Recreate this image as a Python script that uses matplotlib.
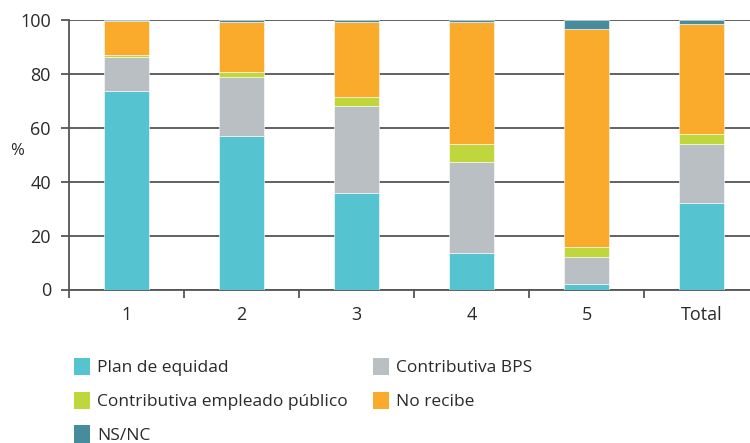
import numpy as np
import matplotlib
matplotlib.use("Agg")
import matplotlib.pyplot as plt
from matplotlib.patches import Patch

plt.rcParams["font.family"] = ["Open Sans", "DejaVu Sans"]

categories = ["1", "2", "3", "4", "5", "Total"]
series_names = ["Plan de equidad", "Contributiva BPS", "Contributiva empleado público", "No recibe", "NS/NC"]
plan_equidad = [73.7, 57.0, 35.9, 13.6, 2.0, 32.2]
contrib_bps = [12.4, 21.7, 32.3, 33.6, 9.9, 21.8]
contrib_publico = [0.9, 2.0, 3.1, 6.8, 3.7, 3.7]
no_recibe = [12.7, 18.4, 27.8, 45.1, 81.1, 40.8]
ns_nc = [0.3, 0.9, 0.9, 0.9, 3.3, 1.5]
colors = ["#56C3D1", "#BABFC3", "#BFD73C", "#FAAB2B", "#478C9C"]

fig = plt.figure(figsize=(7.5, 4.43), dpi=100)
ax = fig.add_axes([69/750, 1 - 289.5/443, 690/750, 269.5/443])

x = np.arange(len(categories))
bottom = np.zeros(len(categories))
series = [plan_equidad, contrib_bps, contrib_publico, no_recibe, ns_nc]
for vals, name, c in zip(series, series_names, colors):
    ax.bar(x, vals, width=0.39, bottom=bottom, color=c, label=name,
           edgecolor="white", linewidth=0.4, zorder=3)
    bottom += np.array(vals)

ax.set_xlim(-0.5, len(categories) - 0.5)
ax.set_ylim(0, 100)
ax.set_yticks(range(0, 101, 20))
ax.yaxis.grid(True, color="#555555", linewidth=1.3, zorder=0)
ax.set_axisbelow(True)

ax.set_xticks(x)
ax.set_xticklabels(categories)
ax.set_xticks(np.arange(-0.5, len(categories) + 0.5), minor=True)
ax.tick_params(axis="x", which="major", length=0, pad=12, labelsize=13, colors="#2a2a2a")
ax.tick_params(axis="x", which="minor", length=6, width=1.3, color="#555555")
ax.tick_params(axis="y", length=6, width=1.3, color="#555555", pad=7, labelsize=13, labelcolor="#2a2a2a")

for s in ["top", "right"]:
    ax.spines[s].set_visible(False)
for s in ["left", "bottom"]:
    ax.spines[s].set_color("#555555")
    ax.spines[s].set_linewidth(1.3)

fig.text(17/750, 1 - 151/443, "%", fontsize=12, color="#2a2a2a", ha="center", va="center")

order = [0, 2, 4, 1, 3]
handles = [Patch(facecolor=colors[i], edgecolor="none") for i in order]
labels = [series_names[i] for i in order]
fig.legend(handles, labels, ncol=2, loc="upper left", bbox_to_anchor=(67/750, 1 - 351/443),
           frameon=False, fontsize=12.5, handlelength=0.92, handleheight=1.15,
           handletextpad=0.4, columnspacing=1.47, labelspacing=0.88, labelcolor="#2a2a2a",
           borderaxespad=0)

fig.savefig("out.png", dpi=100)
